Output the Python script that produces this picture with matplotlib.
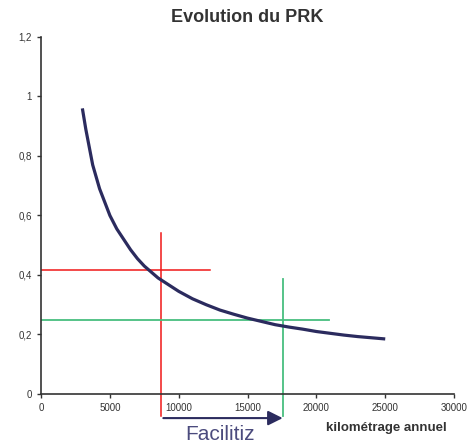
import matplotlib
matplotlib.use('Agg')
import matplotlib.pyplot as plt
from matplotlib.ticker import FuncFormatter

plt.rcParams['font.family'] = ['Liberation Sans', 'DejaVu Sans']

# kilometrage annuel and PRK values
km = [3000, 3250, 3500, 3750, 4000, 4250, 4500, 5000, 5500, 6000, 6500, 7000,
      7500, 8000, 8500, 9000, 10000, 11000, 12000, 13000, 14000, 15000,
      16000, 17000, 18000, 19000, 20000, 21000, 22000, 23000, 24000, 25000]
prk = [0.96, 0.89, 0.83, 0.77, 0.73, 0.69, 0.66, 0.60, 0.555, 0.52, 0.485,
       0.455, 0.43, 0.41, 0.39, 0.375, 0.345, 0.32, 0.30, 0.282, 0.268,
       0.255, 0.244, 0.233, 0.225, 0.218, 0.21, 0.204, 0.198, 0.193, 0.189,
       0.185]

# guide lines
red_x, red_y = 8700, 0.417
green_x, green_y = 17550, 0.25
red_h_end, green_h_end = 12300, 20900
red_v_top, green_v_top = 0.542, 0.386
v_bottom = -0.075
arrow_y = -0.081

fig = plt.figure(figsize=(4.72, 4.46), dpi=100)
ax = fig.add_axes([0.087, 0.1166, 0.875, 0.8005])

ax.plot(km, prk, color='#2b2b5e', lw=2.3, solid_capstyle='butt', zorder=3)

ax.plot([0, red_h_end], [red_y, red_y], color='#f01818', lw=1.1, zorder=2)
ax.plot([red_x, red_x], [v_bottom, red_v_top], color='#f01818', lw=1.1,
        clip_on=False, zorder=2)
ax.plot([0, green_h_end], [green_y, green_y], color='#48be7f', lw=1.3, zorder=2)
ax.plot([green_x, green_x], [v_bottom, green_v_top], color='#48be7f', lw=1.3,
        clip_on=False, zorder=2)

ax.annotate('', xy=(green_x, arrow_y), xytext=(8880, arrow_y),
            arrowprops=dict(arrowstyle='-|>', color='#2b2b5e', lw=1.5,
                            mutation_scale=22, shrinkA=0, shrinkB=0),
            annotation_clip=False)
ax.text(13000, -0.137, 'Facilitiz', color='#4b4b7d', fontsize=15,
        ha='center', va='center', clip_on=False)

ax.set_xlim(0, 30000)
ax.set_ylim(0, 1.2)
ax.set_xticks(range(0, 30001, 5000))
ax.set_yticks([0, 0.2, 0.4, 0.6, 0.8, 1.0, 1.2])
ax.yaxis.set_major_formatter(FuncFormatter(lambda v, p: ('%g' % v).replace('.', ',')))
ax.tick_params(labelsize=7, labelcolor='#333333', length=3, width=1, color='#333333')
for s in ['top', 'right']:
    ax.spines[s].set_visible(False)
for s in ['left', 'bottom']:
    ax.spines[s].set_color('#333333')
    ax.spines[s].set_linewidth(1.2)

fig.text(0.524, 0.96, 'Evolution du PRK', fontsize=13, fontweight='bold',
         color='#333333', ha='center', va='center')
fig.text(0.818, 0.04, 'kilométrage annuel', fontsize=9.5, fontweight='bold',
         color='#333333', ha='center', va='center')

fig.savefig('out.png', dpi=100)
